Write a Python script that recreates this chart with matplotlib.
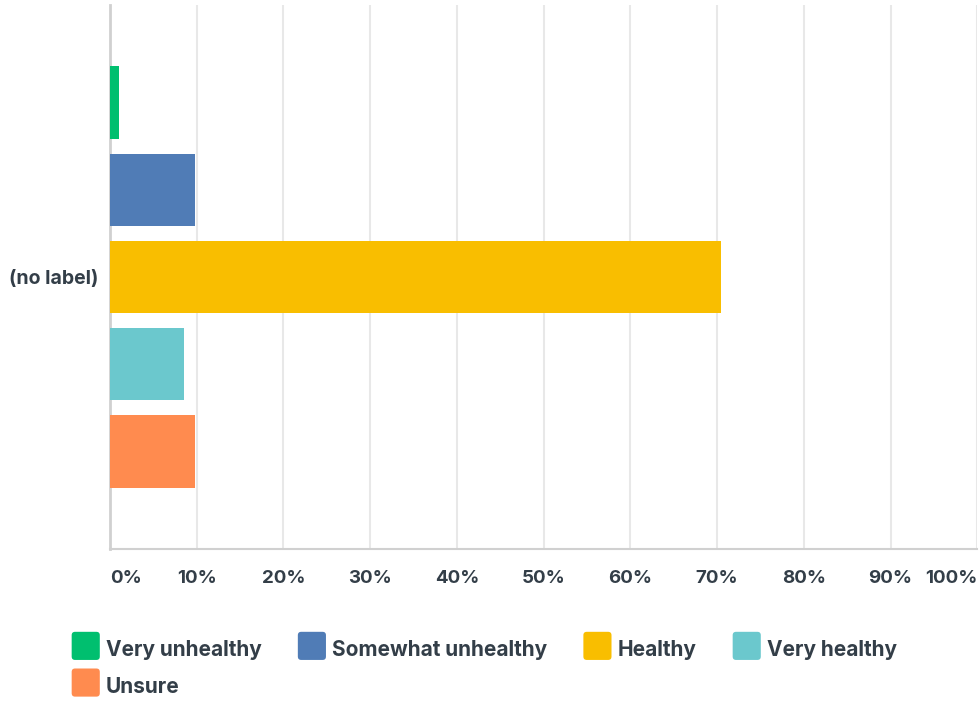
import matplotlib.pyplot as plt
from matplotlib.patches import FancyBboxPatch
from matplotlib.legend_handler import HandlerPatch
import numpy as np

category = "(no label)"
series = ["Very unhealthy", "Somewhat unhealthy", "Healthy", "Very healthy", "Unsure"]
values = [1.1, 9.8, 70.4, 8.5, 9.8]
colors = ["#00bf6f", "#507cb6", "#f9be00", "#6bc8cd", "#ff8b4f"]
ticks = [0, 10, 20, 30, 40, 50, 60, 70, 80, 90, 100]

txt = "#333e48"
plt.rcParams['font.family'] = ['Inter', 'DejaVu Sans']
plt.rcParams['font.weight'] = 'bold'

fig = plt.figure(figsize=(9.8, 7.04), dpi=100)
ax = fig.add_axes([0.1122, 0.2202, 0.8851, 0.7727])

step = 0.16
height = 0.134
offsets = (np.arange(len(series)) - (len(series) - 1) / 2) * step
bars = []
for i, (name, v, c) in enumerate(zip(series, values, colors)):
    b = ax.barh(-offsets[i], v, height=height, color=c, label=name, zorder=3)
    bars.append(b)

ax.set_xlim(0, 100)
ax.set_ylim(-0.5, 0.5)
ax.set_yticks([0])
ax.set_yticklabels([category], fontsize=14, color=txt)
ax.set_xticks(ticks)
ax.set_xticklabels(["%d%%" % t for t in ticks], fontsize=13.5, color=txt)
labs = ax.get_xticklabels()
labs[0].set_horizontalalignment('left')
labs[-1].set_horizontalalignment('right')
ax.tick_params(axis='x', length=0, pad=15)
ax.tick_params(axis='y', length=0, pad=8)
ax.grid(axis='x', color='#e8e8e8', linewidth=1.5, zorder=0)
for s in ['top', 'right']:
    ax.spines[s].set_visible(False)
ax.spines['left'].set_color('#d0d0d0')
ax.spines['left'].set_linewidth(2)
ax.spines['bottom'].set_color('#d0d0d0')
ax.spines['bottom'].set_linewidth(1.5)


class RoundBox(HandlerPatch):
    def create_artists(self, legend, orig, xd, yd, w, h, fs, trans):
        size = w
        p = FancyBboxPatch((xd, yd + h / 2 - size / 2), size, size,
                           boxstyle="round,pad=0,rounding_size=%f" % (size * 0.12),
                           facecolor=orig.patches[0].get_facecolor(),
                           edgecolor='none', transform=trans)
        return [p]


order = [0, 4, 1, 2, 3]
leg = fig.legend([bars[i] for i in order], [series[i] for i in order],
                 ncol=4, loc='upper left', bbox_to_anchor=(0.054, 0.117),
                 frameon=False, fontsize=15, handlelength=1.35, handleheight=0.93,
                 handletextpad=0.3, columnspacing=1.73, labelspacing=0.8,
                 handler_map={type(bars[0]): RoundBox()})
for t in leg.get_texts():
    t.set_color(txt)

fig.savefig("out.png", dpi=100)
